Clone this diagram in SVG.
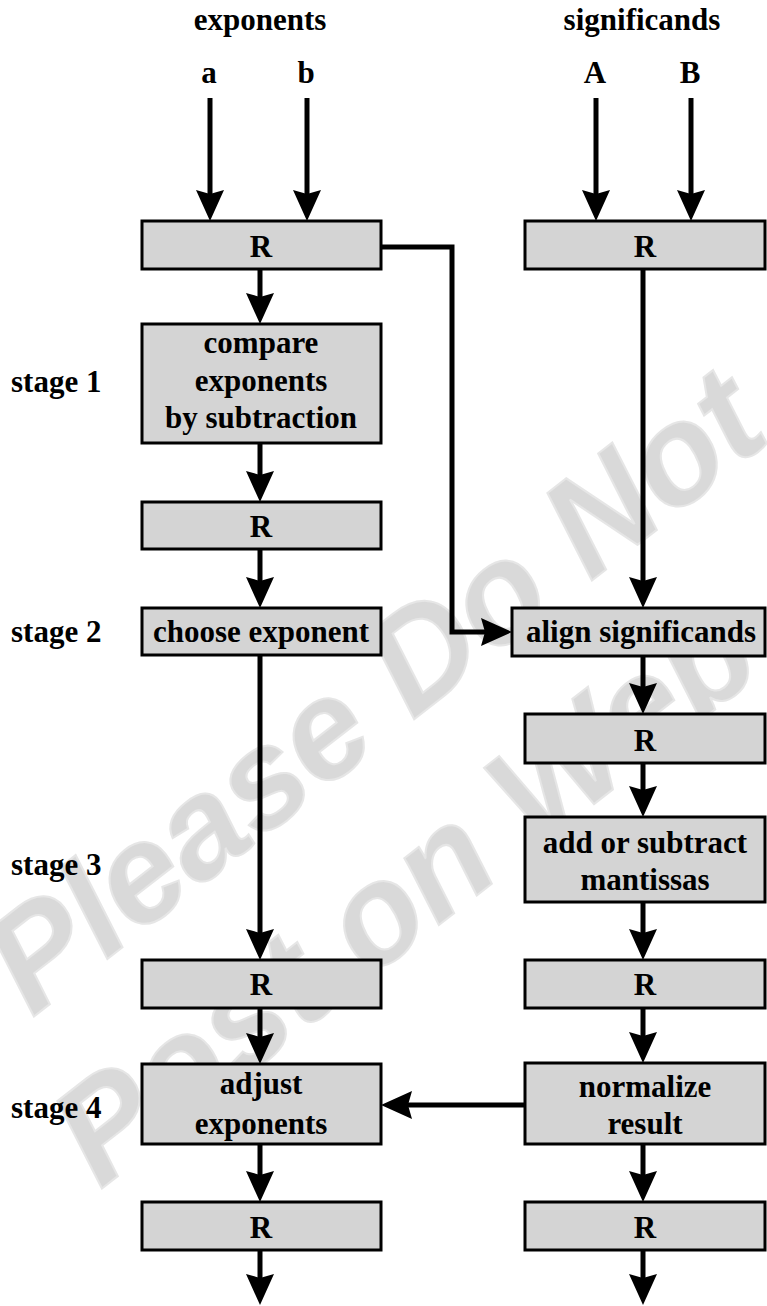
<svg xmlns="http://www.w3.org/2000/svg" width="767" height="1306" viewBox="0 0 767 1306">
<style>
.box{fill:#d4d4d4;stroke:#000;stroke-width:3}
.t{font-family:"Liberation Serif","Times New Roman",serif;font-weight:bold;font-size:31px;fill:#000;text-anchor:middle}
.ts{font-family:"Liberation Serif","Times New Roman",serif;font-weight:bold;font-size:31px;fill:#000;text-anchor:start}
.wm{font-family:"Liberation Sans",Arial,sans-serif;font-weight:bold;font-style:italic;font-size:140px;fill:#d9d9d9;stroke:#e6e6e6;stroke-width:2}
.c{fill:none;stroke:#000;stroke-width:5;marker-end:url(#ah)}
</style>
<defs>
<marker id="ah" markerUnits="userSpaceOnUse" markerWidth="40" markerHeight="40" refX="0" refY="0" orient="auto" overflow="visible">
<path d="M25,0 L-6,-14 L-2,0 L-6,14 z" fill="#000"/>
</marker>
</defs>
<rect width="767" height="1306" fill="#fff"/>
<g id="watermark">
<text class="wm" transform="translate(32,1018) rotate(-38)">Please Do Not</text>
<text class="wm" transform="translate(100,1190) rotate(-38)">Post on Web</text>
</g>
<g id="headers">
<text class="t" x="260" y="30">exponents</text>
<text class="t" x="642" y="30">significands</text>
<text class="t" x="209" y="83">a</text>
<text class="t" x="306" y="83">b</text>
<text class="t" x="595" y="83">A</text>
<text class="t" x="690" y="83">B</text>
</g>
<g id="stages">
<text class="ts" x="11" y="392">stage 1</text>
<text class="ts" x="11" y="642">stage 2</text>
<text class="ts" x="11" y="875">stage 3</text>
<text class="ts" x="11" y="1118">stage 4</text>
</g>
<g id="connectors">
<path class="c" d="M210,98 V196"/>
<path class="c" d="M307,98 V196"/>
<path class="c" d="M596,98 V196"/>
<path class="c" d="M691,98 V196"/>
<path class="c" d="M260,269 V299"/>
<path class="c" d="M260,443 V477"/>
<path class="c" d="M260,549 V583"/>
<path class="c" d="M260,655 V935"/>
<path class="c" d="M260,1008 V1039"/>
<path class="c" d="M260,1144 V1177"/>
<path class="c" d="M260,1250 V1280"/>
<path class="c" d="M381,247 H452 V632 H487"/>
<path class="c" d="M643,269 V583"/>
<path class="c" d="M643,656 V689"/>
<path class="c" d="M643,763 V792"/>
<path class="c" d="M643,902 V935"/>
<path class="c" d="M643,1008 V1038"/>
<path class="c" d="M525,1105 H406"/>
<path class="c" d="M643,1144 V1177"/>
<path class="c" d="M643,1250 V1280"/>
</g>
<g id="n-r1-exp"><rect class="box" x="142" y="221" width="239" height="48"/><text class="t" x="261" y="257">R</text></g>
<g id="n-compare"><rect class="box" x="142" y="324" width="239" height="119"/><text class="t" x="261" y="353">compare</text><text class="t" x="261" y="391">exponents</text><text class="t" x="261" y="428">by subtraction</text></g>
<g id="n-r2-exp"><rect class="box" x="142" y="502" width="239" height="47"/><text class="t" x="261" y="537">R</text></g>
<g id="n-choose"><rect class="box" x="142" y="608" width="239" height="47"/><text class="t" x="261" y="642">choose exponent</text></g>
<g id="n-r3-exp"><rect class="box" x="142" y="960" width="239" height="48"/><text class="t" x="261" y="995">R</text></g>
<g id="n-adjust"><rect class="box" x="142" y="1064" width="239" height="80"/><text class="t" x="261" y="1094">adjust</text><text class="t" x="261" y="1134">exponents</text></g>
<g id="n-r4-exp"><rect class="box" x="142" y="1202" width="239" height="48"/><text class="t" x="261" y="1238">R</text></g>
<g id="n-r1-sig"><rect class="box" x="525" y="221" width="240" height="48"/><text class="t" x="645" y="257">R</text></g>
<g id="n-align"><rect class="box" x="512" y="608" width="253" height="48"/><text class="t" x="641" y="642">align significands</text></g>
<g id="n-r2-sig"><rect class="box" x="525" y="714" width="240" height="49"/><text class="t" x="645" y="751">R</text></g>
<g id="n-add"><rect class="box" x="525" y="817" width="240" height="85"/><text class="t" x="645" y="853">add or subtract</text><text class="t" x="645" y="890">mantissas</text></g>
<g id="n-r3-sig"><rect class="box" x="525" y="960" width="240" height="48"/><text class="t" x="645" y="995">R</text></g>
<g id="n-normalize"><rect class="box" x="525" y="1063" width="240" height="81"/><text class="t" x="645" y="1097">normalize</text><text class="t" x="645" y="1134">result</text></g>
<g id="n-r4-sig"><rect class="box" x="525" y="1202" width="240" height="48"/><text class="t" x="645" y="1238">R</text></g>
</svg>
